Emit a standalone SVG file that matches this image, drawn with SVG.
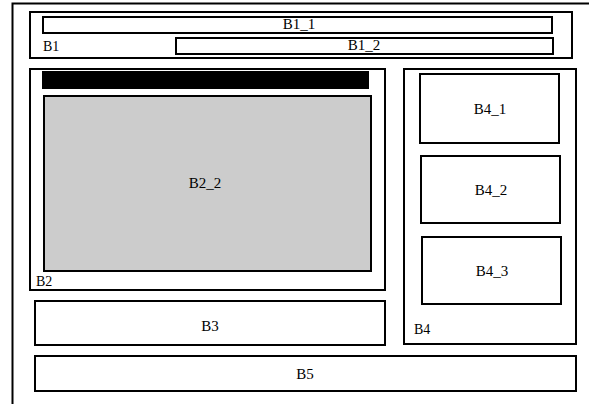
<svg xmlns="http://www.w3.org/2000/svg" width="589" height="404" viewBox="0 0 589 404">
<style>
.b{fill:#fff;stroke:#000;stroke-width:2}
.g{fill:#cccccc;stroke:#000;stroke-width:2}
text{font-family:'Liberation Serif','Times New Roman',serif;font-size:15px;fill:#000}
.c{text-anchor:middle}
.s{font-size:14px}
</style>
<rect width="589" height="404" fill="#fff"/>
<g id="frame"><path d="M12.5,404 V3.5 H589" fill="none" stroke="#000" stroke-width="2"/></g>
<g id="B1">
<rect class="b" x="30" y="12" width="542" height="46"/>
<text class="s" x="43" y="51" font-family="Liberation Serif, serif">B1</text>
</g>
<g id="B1_1"><rect class="b" x="43" y="17" width="509" height="16"/><text class="c" x="299" y="29" font-family="Liberation Serif, serif">B1_1</text></g>
<g id="B1_2"><rect class="b" x="176" y="38" width="377" height="16"/><text class="c" x="364" y="50" font-family="Liberation Serif, serif">B1_2</text></g>
<g id="B2">
<rect class="b" x="30" y="69" width="355" height="221"/>
<text class="s" x="36" y="286" font-family="Liberation Serif, serif">B2</text>
</g>
<g id="B2_1"><rect x="42" y="71" width="327" height="18" fill="#000"/></g>
<g id="B2_2"><rect class="g" x="44" y="96" width="327" height="175"/><text class="c" x="205" y="188" font-family="Liberation Serif, serif">B2_2</text></g>
<g id="B3"><rect class="b" x="35" y="301" width="350" height="44"/><text class="c" x="210" y="331" font-family="Liberation Serif, serif">B3</text></g>
<g id="B4">
<rect class="b" x="404" y="69" width="172" height="275"/>
<text class="s" x="414" y="334" font-family="Liberation Serif, serif">B4</text>
</g>
<g id="B4_1"><rect class="b" x="420" y="74" width="139" height="69"/><text class="c" x="490" y="114" font-family="Liberation Serif, serif">B4_1</text></g>
<g id="B4_2"><rect class="b" x="421" y="156" width="139" height="67"/><text class="c" x="491" y="195" font-family="Liberation Serif, serif">B4_2</text></g>
<g id="B4_3"><rect class="b" x="422" y="237" width="139" height="67"/><text class="c" x="492" y="276" font-family="Liberation Serif, serif">B4_3</text></g>
<g id="B5"><rect class="b" x="35" y="356" width="541" height="35"/><text class="c" x="305" y="379" font-family="Liberation Serif, serif">B5</text></g>
<g id="connectors"></g>
</svg>
